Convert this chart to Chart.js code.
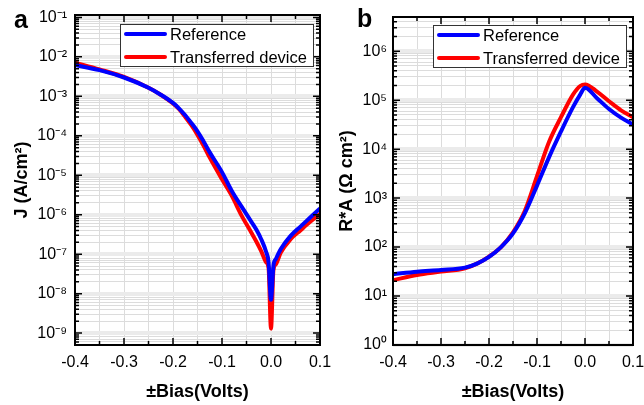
<!DOCTYPE html>
<html>
<head>
<meta charset="utf-8">
<script src="https://cdn.jsdelivr.net/npm/chart.js@4.4.1/dist/chart.umd.min.js"></script>
<style>
  body { margin: 0; background: #fff; width: 644px; height: 405px; overflow: hidden; position: relative; }
  canvas { position: absolute; top: 0; }
  #chartA { left: 0; }
  #chartB { left: 328px; }
</style>
</head>
<body>
<canvas id="chartA" width="340" height="405"></canvas>
<canvas id="chartB" width="316" height="405"></canvas>
<script>
// panel a : J vs bias
const biasA = [-0.4, -0.35, -0.3, -0.25, -0.225, -0.2, -0.1875, -0.175, -0.1625, -0.15, -0.1375, -0.125, -0.1, -0.08, -0.06, -0.04, -0.03, -0.02, -0.01, -0.005, 0, 0.005, 0.01, 0.02, 0.04, 0.06, 0.08, 0.1]
const jReference = [6.2e-3, 4.6e-3, 3.0e-3, 1.65e-3, 1.1e-3, 6.8e-4, 4.9e-4, 3.3e-4, 2.1e-4, 1.3e-4, 7.2e-5, 3.8e-5, 1.2e-5, 4.0e-6, 1.6e-6, 6.6e-7, 4.2e-7, 2.4e-7, 1.15e-7, 6.3e-8, 7e-9, 5.2e-8, 7.6e-8, 1.35e-7, 2.9e-7, 5.0e-7, 8.5e-7, 1.45e-6]
const jTransferred = [7.1e-3, 4.8e-3, 3.1e-3, 1.65e-3, 1.1e-3, 6.6e-4, 4.7e-4, 3.0e-4, 1.85e-4, 1.05e-4, 5.6e-5, 2.8e-5, 7.9e-6, 3.0e-6, 9.5e-7, 3.5e-7, 2.1e-7, 1.2e-7, 6.3e-8, 4.5e-8, 1.3e-9, 4.0e-8, 5.6e-8, 1.1e-7, 2.4e-7, 4.0e-7, 6.6e-7, 1.05e-6]

// panel b : R*A vs bias
const biasB = [-0.4, -0.35, -0.3, -0.25, -0.225, -0.2, -0.175, -0.15, -0.125, -0.1, -0.075, -0.05, -0.025, -0.01, 0, 0.025, 0.05, 0.075, 0.1]
const raReference = [28, 31.5, 34, 38, 46, 63, 100, 190, 500, 1800, 6800, 2.3e4, 7.2e4, 1.3e5, 1.8e5, 1.1e5, 6.6e4, 4.4e4, 3.2e4]
const raTransferred = [21, 27, 31.5, 37, 46, 64, 100, 200, 560, 2800, 1.4e4, 4.5e4, 1.3e5, 1.95e5, 2.1e5, 1.5e5, 9.5e4, 6.2e4, 4.5e4]

const seriesNames = ['Reference', 'Transferred device']
const seriesColors = ['#0000ff', '#ff0000']

const FONT = '"Liberation Sans", Arial, sans-serif'
Chart.defaults.font.family = FONT
Chart.defaults.color = '#000'

const SUP = { '-': '\u207B', '0': '\u2070', '1': '\u00B9', '2': '\u00B2', '3': '\u00B3', '4': '\u2074', '5': '\u2075', '6': '\u2076', '7': '\u2077', '8': '\u2078', '9': '\u2079' }
const pow10Label = (e) => '10' + String(e).split('').map(c => SUP[c]).join('')
const isDecade = (v) => Math.abs(Math.log10(v) - Math.round(Math.log10(v))) < 1e-6
const isMajorX = (v) => Math.round(v * 20) % 2 === 0

const pairs = (xs, ys) => xs.map((x, i) => ({ x: x, y: ys[i] }))

// frame with inward ticks, boxed legend and panel letter
const panelDecor = {
  id: 'panelDecor',
  afterDraw(chart, args, opts) {
    const { ctx, chartArea: a } = chart
    const xs = chart.scales.x
    const ys = chart.scales.y
    ctx.save()
    ctx.strokeStyle = '#000'
    ctx.lineWidth = 1.5
    ctx.beginPath()
    xs.ticks.forEach(t => {
      const p = xs.getPixelForValue(t.value)
      const len = isMajorX(t.value) ? 7 : 4
      ctx.moveTo(p, a.bottom); ctx.lineTo(p, a.bottom - len)
      ctx.moveTo(p, a.top); ctx.lineTo(p, a.top + len)
    })
    ys.ticks.forEach(t => {
      const p = ys.getPixelForValue(t.value)
      const len = isDecade(t.value) ? 7 : 4
      ctx.moveTo(a.left, p); ctx.lineTo(a.left + len, p)
      ctx.moveTo(a.right, p); ctx.lineTo(a.right - len, p)
    })
    ctx.stroke()
    ctx.lineWidth = 2
    ctx.strokeRect(a.left, a.top, a.right - a.left, a.bottom - a.top)

    // legend
    const w = 193, h = 42
    const lx = a.right - 7 - w
    const ly = a.top + opts.legendTop
    ctx.fillStyle = '#fff'
    ctx.fillRect(lx, ly, w, h)
    ctx.lineWidth = 1
    ctx.strokeStyle = '#333'
    ctx.strokeRect(lx + 0.5, ly + 0.5, w, h)
    ctx.font = '16.5px ' + FONT
    ctx.textBaseline = 'middle'
    chart.data.datasets.forEach((ds, i) => {
      const yy = ly + 10 + i * 23
      ctx.strokeStyle = ds.borderColor
      ctx.lineWidth = 4
      ctx.lineCap = 'round'
      ctx.beginPath()
      ctx.moveTo(lx + 6, yy); ctx.lineTo(lx + 45, yy)
      ctx.stroke()
      ctx.fillStyle = '#000'
      ctx.fillText(ds.label, lx + 50, yy + 1)
    })

    ctx.font = 'bold 25px ' + FONT
    ctx.textBaseline = 'alphabetic'
    ctx.fillStyle = '#000'
    ctx.fillText(opts.letter, opts.letterX, opts.letterY)
    ctx.restore()
  }
}

function makeChart(id, cfg) {
  return new Chart(document.getElementById(id), {
    type: 'line',
    data: {
      datasets: [
        { label: seriesNames[0], data: pairs(cfg.bias, cfg.ref), borderColor: seriesColors[0] },
        { label: seriesNames[1], data: pairs(cfg.bias, cfg.trans), borderColor: seriesColors[1] }
      ]
    },
    options: {
      responsive: false,
      animation: false,
      layout: { padding: { top: cfg.top, right: cfg.right, left: 0, bottom: 0 } },
      elements: {
        point: { radius: 0 },
        line: { borderWidth: 4, cubicInterpolationMode: 'monotone', borderJoinStyle: 'round' }
      },
      plugins: {
        legend: { display: false },
        tooltip: { enabled: false },
        panelDecor: { letter: cfg.letter, letterX: cfg.letterX, letterY: cfg.letterY, legendTop: cfg.legendTop }
      },
      scales: {
        x: {
          type: 'linear',
          min: -0.4,
          max: 0.1,
          afterFit: (s) => { s.height = 60; s.paddingLeft = 0; s.paddingRight = 0 },
          ticks: {
            stepSize: 0.05,
            autoSkip: false,
            maxRotation: 0,
            padding: 8,
            font: { size: 16 },
            callback: (v) => isMajorX(v) ? (Math.abs(v) < 1e-9 ? '0.0' : v.toFixed(1)) : ''
          },
          grid: { color: '#dcdcdc', lineWidth: 1, drawTicks: false },
          border: { display: false },
          title: { display: true, text: '\u00B1Bias(Volts)', font: { size: 18, weight: 'bold' }, padding: { top: 0, bottom: 2 } }
        },
        y: {
          type: 'logarithmic',
          min: cfg.yMin,
          max: cfg.yMax,
          afterFit: (s) => { s.width = cfg.yWidth; s.paddingTop = 0; s.paddingBottom = 0 },
          afterBuildTicks: (s) => {
            const ticks = []
            for (let e = -10; e <= 7; e++) {
              for (let m = 1; m <= 9; m++) {
                const v = m * Math.pow(10, e)
                if (v >= s.min && v <= s.max) ticks.push({ value: v })
              }
            }
            s.ticks = ticks
          },
          ticks: {
            autoSkip: false,
            padding: cfg.yTickPad,
            font: { size: 16 },
            callback: (v) => isDecade(v) ? pow10Label(Math.round(Math.log10(v))) : ''
          },
          grid: {
            drawTicks: false,
            color: (c) => (c.tick && isDecade(c.tick.value)) ? '#ebebeb' : '#dcdcdc',
            lineWidth: (c) => (c.tick && isDecade(c.tick.value)) ? 4 : 1
          },
          border: { display: false },
          title: { display: true, text: cfg.yTitle, font: { size: 18, weight: 'bold' }, padding: { top: cfg.yTitlePad, bottom: 0 } }
        }
      }
    },
    plugins: [panelDecor]
  })
}

makeChart('chartA', {
  bias: biasA, ref: jReference, trans: jTransferred,
  yMin: 5e-10, yMax: 0.115, yTitle: 'J (A/cm\u00B2)',
  top: 15, right: 20, yWidth: 75, yTickPad: 8, yTitlePad: 11,
  letter: 'a', letterX: 14, letterY: 28, legendTop: 9
})

makeChart('chartB', {
  bias: biasB, ref: raReference, trans: raTransferred,
  yMin: 1, yMax: 5e6, yTitle: 'R*A (\u03A9 cm\u00B2)',
  top: 17, right: 11, yWidth: 65, yTickPad: 6, yTitlePad: 8,
  letter: 'b', letterX: 29, letterY: 27, legendTop: 8
})
</script>
</body>
</html>
